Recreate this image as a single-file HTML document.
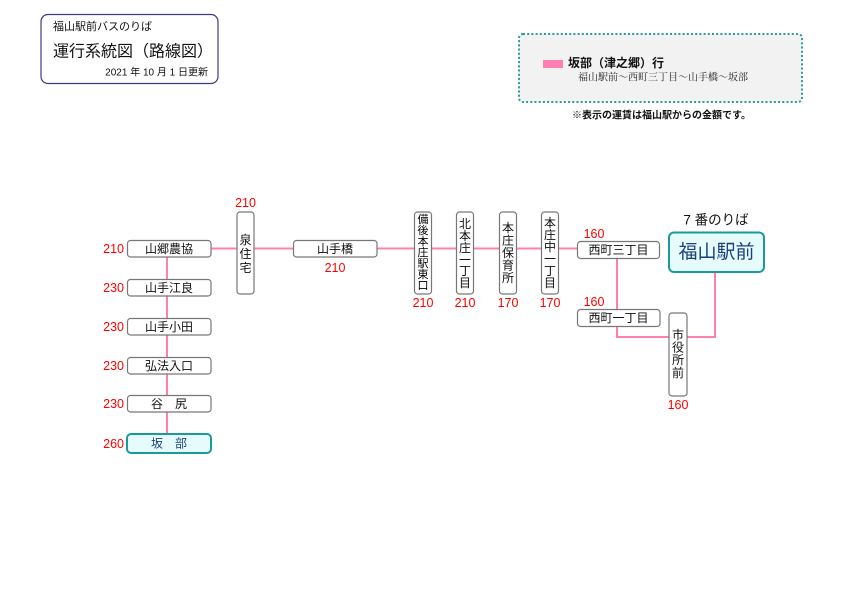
<!DOCTYPE html>
<html><head><meta charset="utf-8">
<style>
html,body{margin:0;padding:0;background:#fff;}
svg{display:block;}
text{font-family:"Liberation Sans","Noto Sans CJK JP",sans-serif;}
.st{font-size:12px;fill:#111;}
.pr{font-size:12.5px;fill:#ff0000;}
.vt{font-size:12px;fill:#111;}
</style></head>
<body>
<svg width="842" height="595" viewBox="0 0 842 595" xmlns="http://www.w3.org/2000/svg">
<rect width="842" height="595" fill="#fff"/>

<!-- Title box -->
<rect x="41" y="14.5" width="177" height="69" rx="7" fill="#fff" stroke="#3c3c80" stroke-width="1.2"/>
<text x="53" y="27" font-size="11" dominant-baseline="central" fill="#111">福山駅前バスのりば</text>
<text x="53" y="52" font-size="16" dominant-baseline="central" fill="#111">運行系統図（路線図）</text>
<text x="208" y="73" font-size="10" text-anchor="end" dominant-baseline="central" fill="#111">2021 年 10 月 1 日更新</text>

<!-- Legend box -->
<rect x="519" y="34" width="283" height="68" rx="4" fill="#f2f2f2" stroke="#2a9d9d" stroke-width="2" stroke-dasharray="2 2.2"/>
<rect x="543" y="60" width="20" height="8" fill="#ff80b0"/>
<text x="568" y="63" font-size="12" font-weight="bold" dominant-baseline="central" fill="#111">坂部（津之郷）行</text>
<text x="578" y="78" font-size="10" dominant-baseline="central" fill="#222" style="font-family:'Liberation Serif','Noto Serif CJK SC',serif">福山駅前～西町三丁目～山手橋～坂部</text>
<text x="572" y="116" font-size="10" font-weight="bold" dominant-baseline="central" fill="#111">※表示の運賃は福山駅からの金額です。</text>

<!-- Route lines -->
<g stroke="#ff80b0" stroke-width="2" fill="none">
  <line x1="167" y1="257" x2="167" y2="434"/>
  <line x1="211" y1="248.5" x2="577" y2="248.5"/>
  <polyline points="617,259 617,309"/>
  <polyline points="617,326 617,337 669,337"/>
  <polyline points="687,337 715,337 715,272"/>
</g>

<!-- Left vertical branch stations -->
<g fill="#fff" stroke="#777" stroke-width="1.2">
  <rect x="127.5" y="240.5" width="83.5" height="16.5" rx="3"/>
  <rect x="127.5" y="279.5" width="83.5" height="16.5" rx="3"/>
  <rect x="127.5" y="318.5" width="83.5" height="16.5" rx="3"/>
  <rect x="127.5" y="357.5" width="83.5" height="16.5" rx="3"/>
  <rect x="127.5" y="395.5" width="83.5" height="16.5" rx="3"/>
</g>
<rect x="127" y="434" width="84" height="19" rx="4" fill="#e6fcfc" stroke="#1a9a9a" stroke-width="2"/>

<text class="st" x="169" y="249" text-anchor="middle" dominant-baseline="central">山郷農協</text>
<text class="st" x="169" y="288" text-anchor="middle" dominant-baseline="central">山手江良</text>
<text class="st" x="169" y="327" text-anchor="middle" dominant-baseline="central">山手小田</text>
<text class="st" x="169" y="366" text-anchor="middle" dominant-baseline="central">弘法入口</text>
<text class="st" x="169" y="404" text-anchor="middle" dominant-baseline="central">谷　尻</text>
<text x="169" y="443.5" font-size="12" text-anchor="middle" dominant-baseline="central" fill="#1d3f7d">坂　部</text>

<text class="pr" x="124" y="249" text-anchor="end" dominant-baseline="central">210</text>
<text class="pr" x="124" y="288" text-anchor="end" dominant-baseline="central">230</text>
<text class="pr" x="124" y="327" text-anchor="end" dominant-baseline="central">230</text>
<text class="pr" x="124" y="366" text-anchor="end" dominant-baseline="central">230</text>
<text class="pr" x="124" y="404" text-anchor="end" dominant-baseline="central">230</text>
<text class="pr" x="124" y="444" text-anchor="end" dominant-baseline="central">260</text>

<!-- Stations on main line -->
<g fill="#fff" stroke="#777" stroke-width="1.2">
  <rect x="237" y="212" width="17" height="82" rx="3"/>
  <rect x="293.5" y="240.5" width="83.5" height="16.5" rx="3"/>
  <rect x="414.5" y="212" width="17" height="82" rx="3"/>
  <rect x="456.5" y="212" width="17" height="82" rx="3"/>
  <rect x="499.5" y="212" width="17" height="82" rx="3"/>
  <rect x="541.5" y="212" width="17" height="82" rx="3"/>
  <rect x="577.5" y="241.5" width="82" height="17" rx="3"/>
  <rect x="577.5" y="309.5" width="82.5" height="17" rx="3"/>
  <rect x="669" y="313" width="18" height="83" rx="3"/>
</g>

<text class="st" x="335" y="249" text-anchor="middle" dominant-baseline="central">山手橋</text>
<text class="st" x="618.5" y="250" text-anchor="middle" dominant-baseline="central">西町三丁目</text>
<text class="st" x="618.5" y="318" text-anchor="middle" dominant-baseline="central">西町一丁目</text>

<!-- 泉住宅 -->
<text class="vt" x="245.5" y="240" text-anchor="middle" dominant-baseline="central">泉</text>
<text class="vt" x="245.5" y="254" text-anchor="middle" dominant-baseline="central">住</text>
<text class="vt" x="245.5" y="268" text-anchor="middle" dominant-baseline="central">宅</text>
<!-- 備後本庄駅東口 -->
<text x="423" y="220" text-anchor="middle" dominant-baseline="central" font-size="11">備</text>
<text x="423" y="231" text-anchor="middle" dominant-baseline="central" font-size="11">後</text>
<text x="423" y="242" text-anchor="middle" dominant-baseline="central" font-size="11">本</text>
<text x="423" y="253" text-anchor="middle" dominant-baseline="central" font-size="11">庄</text>
<text x="423" y="264" text-anchor="middle" dominant-baseline="central" font-size="11">駅</text>
<text x="423" y="275" text-anchor="middle" dominant-baseline="central" font-size="11">東</text>
<text x="423" y="286" text-anchor="middle" dominant-baseline="central" font-size="11">口</text>
<!-- 北本庄一丁目 -->
<text class="vt" x="465" y="224" text-anchor="middle" dominant-baseline="central">北</text>
<text class="vt" x="465" y="236" text-anchor="middle" dominant-baseline="central">本</text>
<text class="vt" x="465" y="248" text-anchor="middle" dominant-baseline="central">庄</text>
<text class="vt" x="465" y="260" text-anchor="middle" dominant-baseline="central">一</text>
<text class="vt" x="465" y="271" text-anchor="middle" dominant-baseline="central">丁</text>
<text class="vt" x="465" y="283" text-anchor="middle" dominant-baseline="central">目</text>
<!-- 本庄保育所 -->
<text class="vt" x="508" y="228" text-anchor="middle" dominant-baseline="central">本</text>
<text class="vt" x="508" y="240.5" text-anchor="middle" dominant-baseline="central">庄</text>
<text class="vt" x="508" y="253" text-anchor="middle" dominant-baseline="central">保</text>
<text class="vt" x="508" y="265.5" text-anchor="middle" dominant-baseline="central">育</text>
<text class="vt" x="508" y="278" text-anchor="middle" dominant-baseline="central">所</text>
<!-- 本庄中一丁目 -->
<text class="vt" x="550" y="223" text-anchor="middle" dominant-baseline="central">本</text>
<text class="vt" x="550" y="235" text-anchor="middle" dominant-baseline="central">庄</text>
<text class="vt" x="550" y="247" text-anchor="middle" dominant-baseline="central">中</text>
<text class="vt" x="550" y="259" text-anchor="middle" dominant-baseline="central">一</text>
<text class="vt" x="550" y="271" text-anchor="middle" dominant-baseline="central">丁</text>
<text class="vt" x="550" y="283" text-anchor="middle" dominant-baseline="central">目</text>
<!-- 市役所前 -->
<text class="vt" x="678" y="335" text-anchor="middle" dominant-baseline="central">市</text>
<text class="vt" x="678" y="347.5" text-anchor="middle" dominant-baseline="central">役</text>
<text class="vt" x="678" y="360" text-anchor="middle" dominant-baseline="central">所</text>
<text class="vt" x="678" y="373" text-anchor="middle" dominant-baseline="central">前</text>

<!-- Prices -->
<text class="pr" x="245.5" y="203" text-anchor="middle" dominant-baseline="central">210</text>
<text class="pr" x="335" y="268" text-anchor="middle" dominant-baseline="central">210</text>
<text class="pr" x="423" y="303" text-anchor="middle" dominant-baseline="central">210</text>
<text class="pr" x="465" y="303" text-anchor="middle" dominant-baseline="central">210</text>
<text class="pr" x="508" y="303" text-anchor="middle" dominant-baseline="central">170</text>
<text class="pr" x="550" y="303" text-anchor="middle" dominant-baseline="central">170</text>
<text class="pr" x="594" y="234" text-anchor="middle" dominant-baseline="central">160</text>
<text class="pr" x="594" y="302" text-anchor="middle" dominant-baseline="central">160</text>
<text class="pr" x="678" y="405" text-anchor="middle" dominant-baseline="central">160</text>

<!-- Terminal -->
<text x="716" y="220" font-size="13.5" text-anchor="middle" dominant-baseline="central" fill="#111">7 番のりば</text>
<rect x="669" y="232.5" width="95" height="39.5" rx="5" fill="#e6fcfc" stroke="#1a9a9a" stroke-width="2"/>
<text x="716.5" y="252.5" font-size="19" text-anchor="middle" dominant-baseline="central" fill="#1d3f7d">福山駅前</text>
</svg>
</body></html>
